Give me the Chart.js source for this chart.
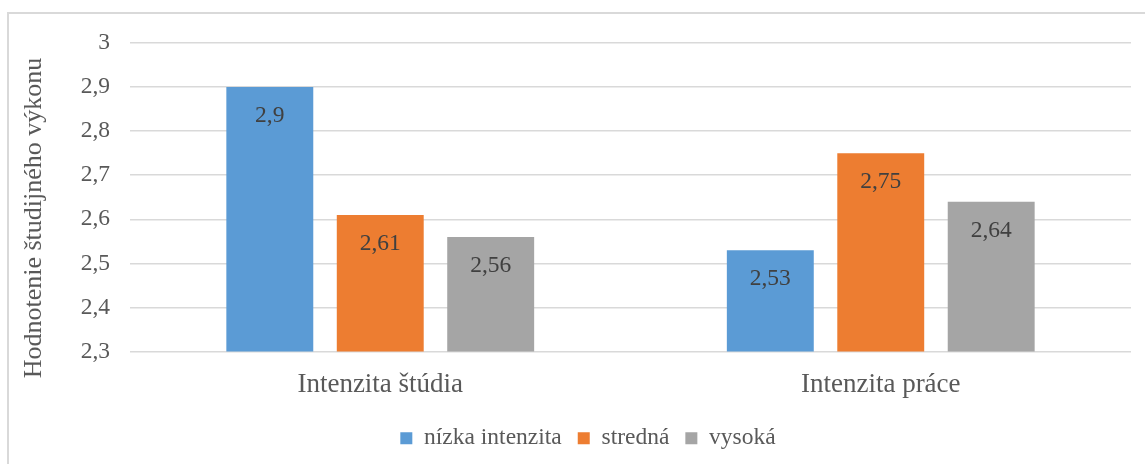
<!DOCTYPE html>
<html>
<head>
<meta charset="utf-8">
<script src="https://cdn.jsdelivr.net/npm/chart.js@4"></script>
<style>
  body { margin: 0; background: #fff; }
  .ramik { position: absolute; left: 7px; top: 12px; width: 1170px; height: 470px; border: 2px solid #d9d9d9; box-sizing: border-box; }
  .graf { position: absolute; left: 0; top: 0; width: 1176px; height: 464px; }
</style>
</head>
<body>
<div class="ramik"></div>
<div class="graf"><canvas id="graf"></canvas></div>
<script>
// kategórie a hodnoty
const kategorie = ['Intenzita štúdia', 'Intenzita práce'];
const nizka = [2.9, 2.53];
const stredna = [2.61, 2.75];
const vysoka = [2.56, 2.64];
const nazvySerii = ['nízka intenzita', 'stredná', 'vysoká'];
const farby = ['#5b9bd5', '#ed7d31', '#a5a5a5'];
const nadpisOsY = 'Hodnotenie študijného výkonu';

const pismo = '"Liberation Serif", "Times New Roman", serif';
const sivaText = '#595959';

function sCiarkou (v) {
  return String(Math.round(v * 100) / 100).replace('.', ',');
}

// hodnoty vpísané do stĺpcov + zvislý nadpis osi Y
const popisky = {
  id: 'popisky',
  afterDatasetsDraw (chart) {
    const ctx = chart.ctx;
    ctx.save();
    ctx.font = '23.5px ' + pismo;
    ctx.fillStyle = '#404040';
    ctx.textAlign = 'center';
    ctx.textBaseline = 'alphabetic';
    chart.data.datasets.forEach((ds, i) => {
      chart.getDatasetMeta(i).data.forEach((bar, j) => {
        ctx.fillText(sCiarkou(ds.data[j]), bar.x, bar.y + 35);
      });
    });

    ctx.translate(34, 218);
    ctx.rotate(-Math.PI / 2);
    ctx.font = '26px ' + pismo;
    ctx.fillStyle = sivaText;
    ctx.textBaseline = 'middle';
    ctx.fillText(nadpisOsY, 0, 0);
    ctx.restore();
  }
};

new Chart(document.getElementById('graf'), {
  type: 'bar',
  data: {
    labels: kategorie,
    datasets: [
      { label: nazvySerii[0], data: nizka, backgroundColor: farby[0] },
      { label: nazvySerii[1], data: stredna, backgroundColor: farby[1] },
      { label: nazvySerii[2], data: vysoka, backgroundColor: farby[2] }
    ]
  },
  options: {
    responsive: true,
    maintainAspectRatio: false,
    animation: false,
    datasets: { bar: { categoryPercentage: 0.662, barPercentage: 0.787 } },
    layout: { padding: { left: 45, right: 45, top: 43, bottom: 4 } },
    plugins: {
      legend: {
        position: 'bottom',
        labels: { boxWidth: 12, boxHeight: 12, padding: 16, color: sivaText, font: { family: pismo, size: 23.5 } }
      },
      tooltip: { enabled: false }
    },
    scales: {
      x: {
        grid: { display: false, drawTicks: false },
        border: { display: false },
        afterFit (axis) { axis.height = 59; },
        ticks: { color: sivaText, padding: 17, font: { family: pismo, size: 27 } }
      },
      y: {
        min: 2.3,
        max: 3,
        afterFit (axis) { axis.width = 85; },
        grid: { color: '#d9d9d9', lineWidth: 1.5, drawTicks: false },
        border: { display: false },
        ticks: {
          stepSize: 0.1,
          padding: 20,
          color: sivaText,
          font: { family: pismo, size: 23.5 },
          callback: v => sCiarkou(v)
        }
      }
    }
  },
  plugins: [popisky]
});
</script>
</body>
</html>
